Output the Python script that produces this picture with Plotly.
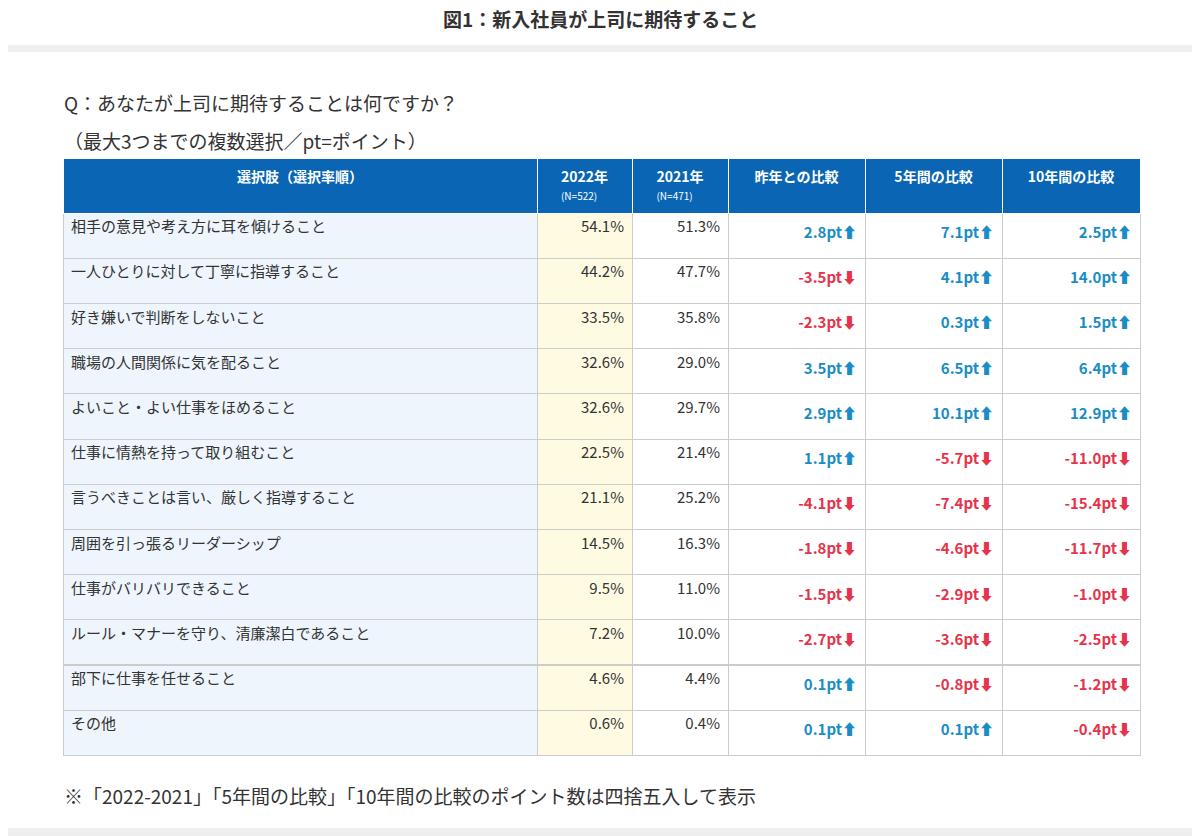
import plotly.graph_objects as go

items = ["相手の意見や考え方に耳を傾けること","一人ひとりに対して丁寧に指導すること","好き嫌いで判断をしないこと",
 "職場の人間関係に気を配ること","よいこと・よい仕事をほめること","仕事に情熱を持って取り組むこと",
 "言うべきことは言い、厳しく指導すること","周囲を引っ張るリーダーシップ","仕事がバリバリできること",
 "ルール・マナーを守り、清廉潔白であること","部下に仕事を任せること","その他"]
y2022 = [54.1,44.2,33.5,32.6,32.6,22.5,21.1,14.5,9.5,7.2,4.6,0.6]
y2021 = [51.3,47.7,35.8,29.0,29.7,21.4,25.2,16.3,11.0,10.0,4.4,0.4]
diff1 = [2.8,-3.5,-2.3,3.5,2.9,1.1,-4.1,-1.8,-1.5,-2.7,0.1,0.1]
diff5 = [7.1,4.1,0.3,6.5,10.1,-5.7,-7.4,-4.6,-2.9,-3.6,-0.8,0.1]
diff10 = [2.5,14.0,1.5,6.4,12.9,-11.0,-15.4,-11.7,-1.0,-2.5,-1.2,-0.4]
headers = ["<b>選択肢（選択率順）</b>","<b>2022年</b><br><span style='font-size:10px'>(N=522)</span>",
 "<b>2021年</b><br><span style='font-size:10px'>(N=471)</span>","<b>昨年との比較</b>","<b>5年間の比較</b>","<b>10年間の比較</b>"]

POS, NEG = "#1a8dc4", "#e5334b"
def fmt(v): return f"<b>{v:.1f}pt{'⬆' if v>=0 else '⬇'}</b>"
def col(vs): return [POS if v>=0 else NEG for v in vs]

OFF = 8
W, H = 1200 - OFF, 836 - OFF
def px(x): return (x - OFF) / W
def py(y): return 1 - (y - OFF) / H
fig = go.Figure(go.Table(
    domain=dict(x=[px(63), px(1140)], y=[py(762), py(158)]),
    columnwidth=[474,95,96,137,137,138],
    header=dict(values=headers, fill_color="#0a66b5", line_color="#ffffff",
                font=dict(color="white", size=14, family="Noto Sans CJK JP"),
                align="center", height=55),
    cells=dict(values=[items,[f"{v:.1f}%" for v in y2022],[f"{v:.1f}%" for v in y2021],
                       [fmt(v) for v in diff1],[fmt(v) for v in diff5],[fmt(v) for v in diff10]],
               fill_color=["#eef5fc","#fffbe3","white","white","white","white"],
               line_color="#cccccc",
               font=dict(size=15, family="Noto Sans CJK JP",
                         color=["#333333","#333333","#333333",col(diff1),col(diff5),col(diff10)]),
               align=["left","right","right","right","right","right"], height=45.2)))
fig.update_layout(width=W, height=H, margin=dict(l=0,r=0,t=0,b=0), paper_bgcolor="white",
    font=dict(family="Noto Sans CJK JP", color="#333333"),
    shapes=[dict(type="rect", xref="paper", yref="paper", x0=0, x1=1, y0=0, y1=py(45),
                 fillcolor="#eeeeee", line_width=0, layer="below"),
            dict(type="rect", xref="paper", yref="paper", x0=0, x1=px(1192), y0=py(828), y1=py(52),
                 fillcolor="white", line_width=0, layer="below")],
    annotations=[
        dict(text="<b>図1：新入社員が上司に期待すること</b>", x=px(600), y=py(18), xref="paper", yref="paper",
             yanchor="middle", showarrow=False, font=dict(size=19, color="#333")),
        dict(text="Q：あなたが上司に期待することは何ですか？", x=px(62), y=py(102), xref="paper", yref="paper",
             xanchor="left", yanchor="middle", showarrow=False, font=dict(size=19, color="#333")),
        dict(text="（最大3つまでの複数選択／pt=ポイント）", x=px(62), y=py(140), xref="paper", yref="paper",
             xanchor="left", yanchor="middle", showarrow=False, font=dict(size=19, color="#333")),
        dict(text="※「2022-2021」「5年間の比較」「10年間の比較のポイント数は四捨五入して表示", x=px(62), y=py(795),
             xref="paper", yref="paper", xanchor="left", yanchor="middle", showarrow=False,
             font=dict(size=19, color="#333")),
    ])
fig.write_html("out.html")
